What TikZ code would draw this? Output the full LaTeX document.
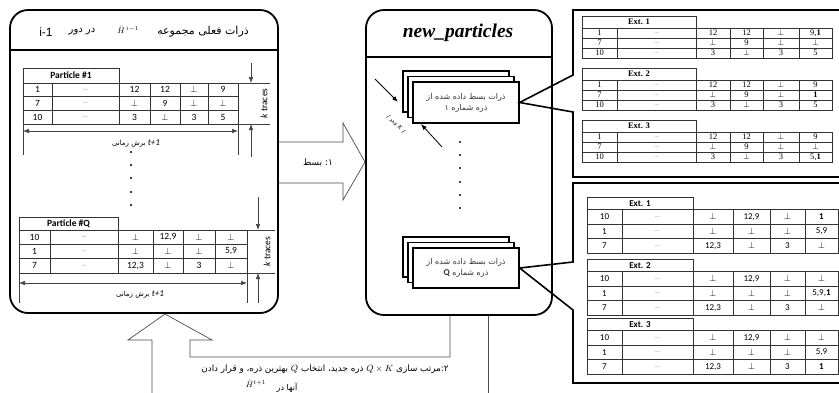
\documentclass[tikz,border=0pt]{standalone}
\usepackage{fontspec}
\setmainfont{Liberation Serif}
\newfontfamily\fafnt[Script=Arabic]{DejaVu Sans}
\newfontfamily\calfnt{Carlito}
\newfontfamily\tmsfnt{Liberation Serif}
\newfontfamily\arlfnt{Liberation Sans}
\TeXXeTstate=1
\usetikzlibrary{arrows.meta}
\newcommand\fL{\calfnt\fontsize{9.5}{10}\selectfont}
\newcommand\fP{\tmsfnt\fontsize{8.5}{9}\selectfont}
\newcommand\fQ{\calfnt\fontsize{9}{9}\selectfont}
\newcommand\dd{\textcolor{black!50}{\fontsize{6.5}{6.5}\selectfont...}}
\newcommand\pp{$\perp$}
\newcommand\mktab[8]{%
  \pgfmathsetmacro\tabxa{{#2}[0]}%
  \pgfmathsetmacro\tabxb{{#2}[2]}%
  \draw[tabl] (\tabxa,#3) rectangle (\tabxb,#3+#4);
  \node[lbl,font=#6\bfseries] (#1-t) at ({(\tabxa+\tabxb)/2},{#3+#4/2}) {#7};
  \foreach \row [count=\ri] in {#8} {
    \foreach \val [count=\ci] in \row {
      \pgfmathsetmacro\tabxl{{#2}[\ci-1]}
      \pgfmathsetmacro\tabxr{{#2}[\ci]}
      \pgfmathsetmacro\tabyt{#3+#4+(\ri-1)*#5}
      \draw[tabl] (\tabxl,\tabyt) rectangle (\tabxr,\tabyt+#5);
      \node[lbl,font=#6] (#1-\ri-\ci) at ({(\tabxl+\tabxr)/2},{\tabyt+#5/2}) {\val};
    }
  }
}
\tikzset{
  bigbox/.style={draw, line width=1.8pt, rounded corners=18pt, inner sep=0pt},
  tabl/.style={draw=black!80, line width=0.5pt},
  dim/.style={draw=black!75, line width=0.6pt},
  dimarrow/.style={dim, -{Latex[length=6pt,width=4.5pt]}},
  dimboth/.style={dim, {Latex[length=6pt,width=4.5pt]}-{Latex[length=6pt,width=4.5pt]}},
  card/.style={draw, line width=1.3pt, fill=white, minimum width=106pt, minimum height=41pt, inner sep=0pt},
  thinshape/.style={draw=black!70, line width=0.7pt},
  callout/.style={draw, line width=1.6pt},
  lbl/.style={inner sep=0pt, outer sep=0pt},
  dot/.style={circle, fill=black, inner sep=0pt, minimum size=2.2pt},
}
\begin{document}
\begin{tikzpicture}[x=1pt,y=-1pt]
\useasboundingbox (0,0) rectangle (839,392);

% bottom U-shaped hollow arrow
\draw[thinshape] (152,400) -- (152,340) -- (128,340) -- (165,314) -- (212,340) -- (190,340) -- (190,357) -- (450,357) -- (450,315);
\draw[thinshape] (488,315) -- (488,400);

% arrow 1
\draw[thinshape, fill=white] (279,142) -- (343,142) -- (343,123) -- (365,162) -- (343,200) -- (343,183) -- (279,183);
\node[lbl, font=\fafnt\fontsize{9}{9}\selectfont] (a1t) at (318,163) {بسط\ :\kern0pt ۱};

% left box
\node[bigbox, minimum width=268pt, minimum height=303pt] (L) at (144,161.5) {};
\draw[line width=1.8pt] (L.west |- 0,50) -- (L.east |- 0,50);
\node[lbl, font=\arlfnt\fontsize{12}{12}\selectfont] (hi) at (46,32) {i-1};
\node[lbl, font=\fafnt\fontsize{10}{11}\selectfont] (hdar) at (82,32) {\beginR در دور\endR};
\node[lbl, font=\fontsize{8}{8}\selectfont] (hH) at (128,30) {$\ddot{H}^{\,i-1}$};
\node[lbl, font=\fafnt\fontsize{11}{11}\selectfont] (hz) at (203,32) {\beginR ذرات فعلی مجموعه\endR};

% new_particles box
\node[bigbox, minimum width=186pt, minimum height=305pt] (N) at (459,162.5) {};
\draw[line width=1.8pt] (N.west |- 0,57) -- (N.east |- 0,57);
\node[lbl, font=\tmsfnt\bfseries\itshape\fontsize{19.5}{19.5}\selectfont] (nt) at (458,33) {new\_particles};

% Particle #1 table
\mktab{pa}{23,52,119,150,180,208,238}{68}{15}{13.7}{\fL}{Particle \#1}{
 {1,\dd,12,12,\pp,9},{7,\dd,\pp,9,\pp,\pp},{10,\dd,3,\pp,3,5}}
\draw[dim] (238,83) -- (270,83);
\draw[dim] (238,124) -- (270,124);
\draw[dimarrow] (251,63) -- (251,83);
\draw[dimarrow] (251,157) -- (251,124);
\node[lbl, rotate=90, font=\calfnt\fontsize{9.5}{10}\selectfont] (kt1) at (264,103.5) {\textit{k} traces};
\draw[dim] (23,124) -- (23,155);
\draw[dim] (238,124) -- (238,155);
\draw[dimboth] (23,131) -- (238,131);
\node[lbl, font=\fafnt\fontsize{7}{7}\selectfont] (bz1) at (136,143) {\beginR برش زمانی\endR\ {\calfnt\itshape\fontsize{9}{9}\selectfont t+1}};

\foreach \i/\y in {1/152,2/165,3/178,4/192,5/205} \node[dot] (ld\i) at (131,\y) {};

% Particle #Q table
\mktab{pq}{19,50,118,153,183,215,247}{217}{13}{14.3}{\fL}{Particle \#Q}{
 {10,\dd,\pp,{12,9},\pp,\pp},{1,\dd,\pp,\pp,\pp,{5,9}},{7,\dd,{12,3},\pp,3,\pp}}
\draw[dim] (247,230) -- (275,230);
\draw[dim] (247,273) -- (275,273);
\draw[dimarrow] (258,197) -- (258,230);
\draw[dimarrow] (258,303) -- (258,273);
\node[lbl, rotate=90, font=\calfnt\fontsize{9.5}{10}\selectfont] (kt2) at (267,251.5) {\textit{k} traces};
\draw[dim] (19,273) -- (19,303);
\draw[dim] (247,273) -- (247,303);
\draw[dimboth] (19,283) -- (247,283);
\node[lbl, font=\fafnt\fontsize{7}{7}\selectfont] (bz2) at (140,294) {\beginR برش زمانی\endR\ {\calfnt\itshape\fontsize{9}{9}\selectfont t+1}};

% cards particle 1
\node[card] (c1b) at (456,91.5) {};
\node[card] (c1m) at (461,97) {};
\node[card, text=black!80, font=\fafnt\fontsize{8}{11}\selectfont, align=center] (c1) at (466,102.5) {\beginR ذرات بسط داده شده از\endR\\\beginR ذره شماره ۱\endR};
\coordinate (k1s) at (375,79);
\coordinate (k1e) at (398,102);
\coordinate (k2s) at (442,147);
\coordinate (k2e) at (421,124);
\draw[dimarrow, black, line width=0.8pt] (k1s) -- (k1e);
\draw[dimarrow, black, line width=0.8pt] (k2s) -- (k2e);
\node[lbl, rotate=-44, font=\fafnt\fontsize{6}{6}\selectfont] (kk) at (396,124) {/ \beginR عدد\endR\ {\tmsfnt\itshape K} /};

\foreach \i/\y in {1/142,2/155,3/168,4/182,5/195,6/208} \node[dot] (nd\i) at (460,\y) {};

% cards particle Q
\node[card, minimum height=40pt] (cQb) at (456,257) {};
\node[card, minimum height=40pt] (cQm) at (461,262.5) {};
\node[card, minimum height=40pt, text=black!80, font=\fafnt\fontsize{8}{11}\selectfont, align=center] (cQ) at (466,268) {\beginR ذرات بسط داده شده از\endR\\\beginR ذره شماره {\calfnt\bfseries\fontsize{9}{9}\selectfont Q}\endR};

% callout panels
\draw[callout] (573,75) -- (573,10) -- (850,10) -- (850,177) -- (573,177) -- (573,112) -- (c1.east) -- cycle;
\draw[callout] (573,262) -- (573,183) -- (850,183) -- (850,383) -- (573,383) -- (573,310) -- (cQ.east) -- cycle;

% panel 1 tables
\mktab{e1}{582,617,696,730,763,799,832}{16}{12}{10}{\fP}{Ext. 1}{
 {1,\dd,12,12,\pp,{9,\textbf{1}}},{7,\dd,\pp,9,\pp,\pp},{10,\dd,3,\pp,3,5}}
\mktab{e2}{582,617,696,730,763,799,832}{68}{12}{10}{\fP}{Ext. 2}{
 {1,\dd,12,12,\pp,9},{7,\dd,\pp,9,\pp,\textbf{1}},{10,\dd,3,\pp,3,5}}
\mktab{e3}{582,617,696,730,763,799,832}{120}{12}{10}{\fP}{Ext. 3}{
 {1,\dd,12,12,\pp,9},{7,\dd,\pp,9,\pp,\pp},{10,\dd,3,\pp,3,{5,\textbf{1}}}}

% panel 2 tables
\mktab{f1}{587,622,693,733,770,805,838}{197}{12.5}{14.5}{\fQ}{Ext. 1}{
 {10,\dd,\pp,{12,9},\pp,\textbf{1}},{1,\dd,\pp,\pp,\pp,{5,9}},{7,\dd,{12,3},\pp,3,\pp}}
\mktab{f2}{587,622,693,733,770,805,838}{259}{12.5}{14.5}{\fQ}{Ext. 2}{
 {10,\dd,\pp,{12,9},\pp,\pp},{1,\dd,\pp,\pp,\pp,{5,9,\textbf{1}}},{7,\dd,{12,3},\pp,3,\pp}}
\mktab{f3}{587,622,693,733,770,805,838}{318}{12.5}{14.5}{\fQ}{Ext. 3}{
 {10,\dd,\pp,{12,9},\pp,\pp},{1,\dd,\pp,\pp,\pp,{5,9}},{7,\dd,{12,3},\pp,3,\textbf{1}}}

% bottom text
\node[lbl, font=\fafnt\fontsize{8.8}{9}\selectfont] (bt1) at (325,369) {\beginR ۲:مرتب سازی \beginL$Q\times K$\endL{} ذره جدید، انتخاب \beginL$Q$\endL{} بهترین ذره، و قرار دادن\endR};
\node[lbl, font=\fontsize{8}{8}\selectfont] (bH) at (256,384) {$\ddot{H}^{t+1}$};
\node[lbl, font=\fafnt\fontsize{8}{8}\selectfont] (bt2) at (287,388) {\beginR آنها در\endR};
\end{tikzpicture}
\end{document}
